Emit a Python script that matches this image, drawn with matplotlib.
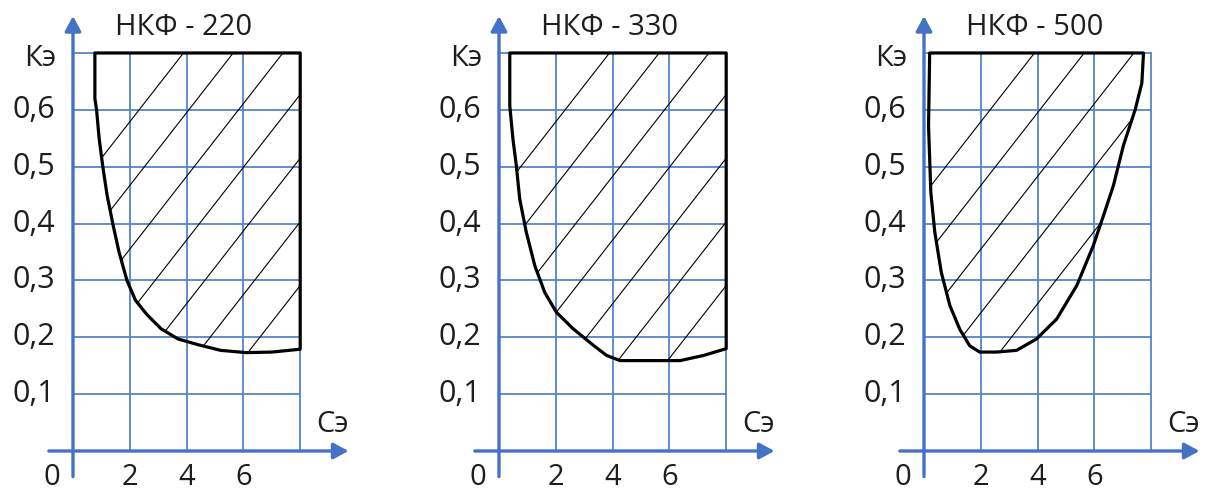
import matplotlib.pyplot as plt
from matplotlib.patches import Polygon

plt.rcParams['font.family'] = ['Open Sans', 'DejaVu Sans']

titles = ["НКФ - 220", "НКФ - 330", "НКФ - 500"]
x_ticks = [2, 4, 6]
y_ticks = [0.1, 0.2, 0.3, 0.4, 0.5, 0.6]
y_tick_labels = ["0,1", "0,2", "0,3", "0,4", "0,5", "0,6"]

# boundary of the allowed region (Сэ, Кэ)
c220 = [0.77, 0.77, 0.83, 0.92, 1.05, 1.2, 1.4, 1.62, 1.9, 2.2, 2.6, 3.1, 3.7, 4.4, 5.2, 6.1, 7.0, 8.0]
k220 = [0.70, 0.62, 0.60, 0.55, 0.50, 0.45, 0.40, 0.35, 0.30, 0.265, 0.24, 0.215, 0.197, 0.187, 0.177, 0.173, 0.174, 0.179]

c330 = [0.38, 0.38, 0.49, 0.61, 0.73, 0.96, 1.26, 1.61, 2.02, 2.61, 3.32, 3.79, 4.26, 5.44, 6.38, 7.2, 8.0]
k330 = [0.70, 0.607, 0.549, 0.502, 0.443, 0.385, 0.326, 0.279, 0.244, 0.215, 0.186, 0.168, 0.159, 0.159, 0.159, 0.168, 0.18]

c500 = [0.2, 0.16, 0.24, 0.38, 0.61, 0.91, 1.26, 1.61, 1.96, 2.55, 3.26, 3.96, 4.67, 5.38, 5.96, 6.32, 6.67, 7.02, 7.44, 7.67, 7.73]
k500 = [0.70, 0.572, 0.455, 0.385, 0.314, 0.256, 0.214, 0.185, 0.174, 0.174, 0.177, 0.197, 0.232, 0.291, 0.361, 0.414, 0.467, 0.537, 0.601, 0.647, 0.70]

curves = [(c220, k220, True), (c330, k330, True), (c500, k500, False)]

BLUE = "#4472c4"
GRID = "#5585cc"
TXT = "#1e1e1e"

W, H = 1205, 493
fig = plt.figure(figsize=(W / 100, H / 100), dpi=100)

x0_px = [73, 499, 924]
y0_px = 451
sx = 28.4     # px per Сэ unit
sy = 568.6    # px per Кэ unit
xl = (-2.5, 9.9)
yl = (-0.075, 0.79)

for i in range(3):
    left = (x0_px[i] + xl[0] * sx) / W
    bottom = (H - (y0_px - yl[0] * sy)) / H
    ax = fig.add_axes([left, bottom, (xl[1] - xl[0]) * sx / W, (yl[1] - yl[0]) * sy / H])
    ax.set_xlim(*xl)
    ax.set_ylim(*yl)
    ax.axis("off")

    # grid
    for gx in [2, 4, 6, 8]:
        ax.plot([gx, gx], [0, 0.7], color=GRID, lw=1.3, zorder=1)
    for gy in y_ticks + [0.7]:
        ax.plot([0, 8], [gy, gy], color=GRID, lw=1.3, zorder=1)

    # axes with arrows
    ax.annotate("", xy=(9.7, 0), xytext=(-0.85, 0),
                arrowprops=dict(arrowstyle="-|>,head_length=0.5,head_width=0.27", color=BLUE,
                                lw=2.4, shrinkA=0, shrinkB=0, mutation_scale=18), zorder=2)
    ax.annotate("", xy=(0, 0.765), xytext=(0, -0.045),
                arrowprops=dict(arrowstyle="-|>,head_length=0.5,head_width=0.27", color=BLUE,
                                lw=2.4, shrinkA=0, shrinkB=0, mutation_scale=18), zorder=2)

    # region
    cx, ky, open_top = curves[i]
    pts = list(zip(cx, ky))
    if open_top:
        pts.append((8.0, 0.7))
    poly = Polygon(pts, closed=True, fill=False, edgecolor="black", lw=2.3,
                   joinstyle="round", zorder=4)
    ax.add_patch(poly)

    # hatching
    slope, c0, step = 0.064, 0.115, 0.112
    for k in range(-9, 4):
        c = c0 + step * k
        ln, = ax.plot([-1, 9], [slope * -1 + c, slope * 9 + c], color="black", lw=0.8, zorder=3)
        ln.set_clip_path(poly)

    # texts
    ax.text(3.9, 0.744, titles[i], ha="center", va="center", fontsize=21, color=TXT)
    ax.text(-1.17, 0.69, "Кэ", ha="center", va="center", fontsize=21, color=TXT)
    for yv, lab in zip(y_ticks, y_tick_labels):
        ax.text(-0.62, yv, lab, ha="right", va="center", fontsize=22, color=TXT)
    for xv in x_ticks:
        ax.text(xv, -0.046, str(xv), ha="center", va="center", fontsize=21, color=TXT, clip_on=False)
    ax.text(-0.74, -0.046, "0", ha="center", va="center", fontsize=21, color=TXT, clip_on=False)
    ax.text(9.15, 0.046, "Сэ", ha="center", va="center", fontsize=21, color=TXT)

fig.savefig("out.png", dpi=100)
